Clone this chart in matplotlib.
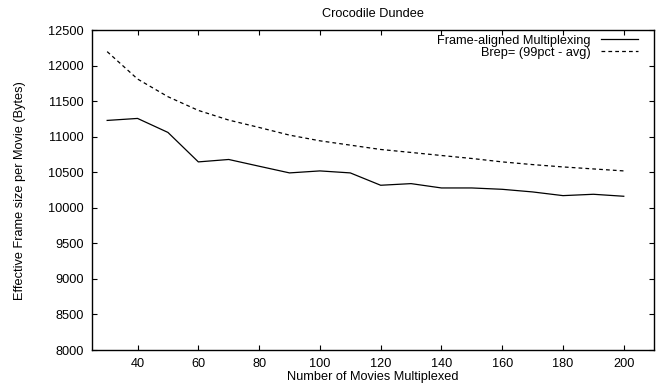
import matplotlib
matplotlib.use("Agg")
import matplotlib.pyplot as plt

# data
movies = [30, 40, 50, 60, 70, 80, 90, 100, 110, 120, 130, 140, 150, 160, 170, 180, 190, 200]
frame_aligned = [11233, 11261, 11064, 10649, 10683, 10588, 10494, 10522, 10494,
                 10320, 10343, 10282, 10282, 10263, 10226, 10174, 10193, 10165]
brep = [12202, 11816, 11567, 11374, 11238, 11134, 11026, 10946, 10885,
        10824, 10782, 10739, 10697, 10649, 10611, 10578, 10550, 10522]
x_ticks = [40, 60, 80, 100, 120, 140, 160, 180, 200]
y_ticks = [8000, 8500, 9000, 9500, 10000, 10500, 11000, 11500, 12000, 12500]

plt.rcParams['font.family'] = ['Liberation Sans', 'DejaVu Sans']
fs = 9.2

fig = plt.figure(figsize=(6.56, 3.85), dpi=100)
ax = fig.add_axes([0.1402, 0.0909, 0.857, 0.830])

ax.plot(movies, frame_aligned, color='black', lw=0.9, label='Frame-aligned Multiplexing')
ax.plot(movies, brep, color='black', lw=0.9, linestyle=(0, (3, 2.5)),
        label='Brep= (99pct - avg)')

ax.set_xlim(25, 210)
ax.set_ylim(8000, 12500)
ax.set_xticks(x_ticks)
ax.set_yticks(y_ticks)
ax.tick_params(direction='in', length=3.5, width=0.8, top=True, right=True,
               labelsize=fs, pad=6)
for sp in ax.spines.values():
    sp.set_linewidth(1.0)

ax.set_title('Crocodile Dundee', fontsize=fs, pad=10)
ax.set_xlabel('Number of Movies Multiplexed', fontsize=fs, labelpad=0.5)
ax.set_ylabel('Effective Frame size per Movie (Bytes)', fontsize=fs, labelpad=16)

# legend: text right-aligned, sample line to the right (gnuplot style)
ax.legend(loc='upper right', bbox_to_anchor=(0.9715, 0.987), frameon=False,
          markerfirst=False, fontsize=fs, handlelength=2.9, handletextpad=0.8,
          labelspacing=0.0, borderaxespad=0.0, borderpad=0.0)

fig.savefig('out.png', dpi=100)
